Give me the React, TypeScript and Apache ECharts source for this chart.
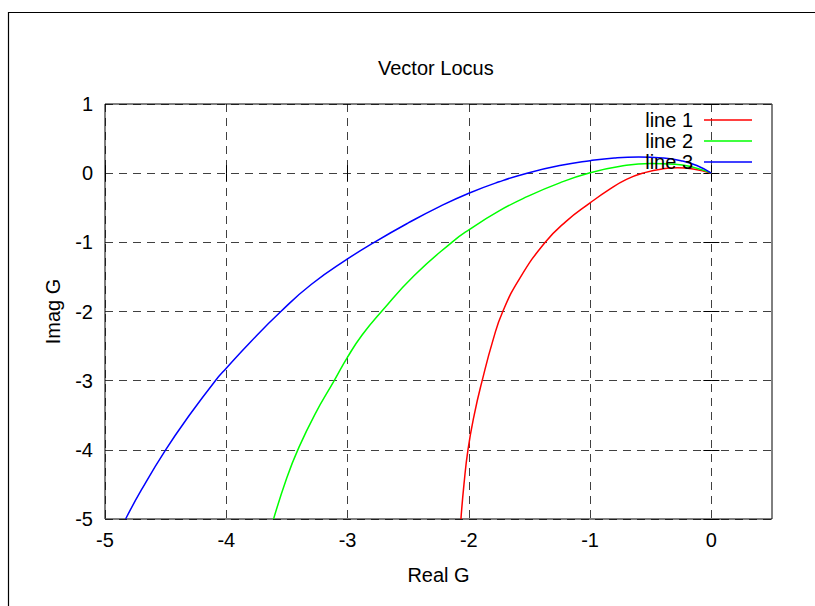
import React, { useEffect, useRef } from "react";
import * as echarts from "echarts";

const seriesNames = ["line 1", "line 2", "line 3"];
const seriesColors = ["#ff0000", "#00ff00", "#0000ff"];

const line1: [number, number][] = [
  [-2.065, -5], [-2.04, -4.5], [-2.007, -4], [-1.955, -3.49], [-1.89, -3], [-1.8, -2.41],
  [-1.72, -2], [-1.58, -1.52], [-1.37, -1], [-1.2, -0.7], [-1.0, -0.43], [-0.85, -0.245],
  [-0.7, -0.09], [-0.55, 0.008], [-0.4, 0.063], [-0.28, 0.077], [-0.15, 0.06], [0, 0],
];
const line2: [number, number][] = [
  [-3.61, -5], [-3.5, -4.4], [-3.41, -4], [-3.27, -3.49], [-3.11, -3], [-3.0, -2.66],
  [-2.88, -2.34], [-2.72, -2], [-2.45, -1.48], [-2.14, -1], [-2.0, -0.82], [-1.75, -0.545],
  [-1.52, -0.34], [-1.25, -0.14], [-1.0, 0.005], [-0.75, 0.1], [-0.5, 0.14], [-0.3, 0.13],
  [-0.15, 0.085], [0, 0],
];
const line3: [number, number][] = [
  [-4.83, -5], [-4.7, -4.58], [-4.5, -4], [-4.3, -3.49], [-4.09, -3], [-4.0, -2.82],
  [-3.8, -2.44], [-3.55, -2], [-3.3, -1.61], [-3.0, -1.24], [-2.78, -1], [-2.5, -0.72],
  [-2.25, -0.49], [-2.0, -0.29], [-1.75, -0.125], [-1.52, 0], [-1.25, 0.11], [-1.0, 0.18],
  [-0.8, 0.22], [-0.6, 0.235], [-0.4, 0.22], [-0.25, 0.18], [-0.12, 0.11], [0, 0],
];

const xTicks = [-5, -4, -3, -2, -1, 0];

const FONT = "'Liberation Sans', Arial, sans-serif";
const FS = 20;

export default function App() {
  const ref = useRef<HTMLDivElement>(null);
  useEffect(() => {
    if (!ref.current) return;
    const chart = echarts.init(ref.current, null, { renderer: "svg" });
    const dash = { type: [8, 6] as any, color: "#000", width: 1, opacity: 0.75 };
    const gridSplit = { show: true, lineStyle: dash };
    const data = [line1, line2, line3];
    chart.setOption({
      animation: false,
      backgroundColor: "#fff",
      textStyle: { fontFamily: FONT },
      title: {
        text: "Vector Locus",
        left: 378,
        top: 58,
        padding: 0,
        textStyle: { fontFamily: FONT, fontSize: FS, fontWeight: "normal", color: "#000" },
      },
      legend: {
        orient: "vertical",
        right: 63,
        top: 110,
        align: "right",
        icon: "rect",
        itemWidth: 48,
        itemHeight: 1.5,
        itemGap: 1,
        padding: 0,
        textStyle: { fontFamily: FONT, fontSize: FS, color: "#000", padding: [0, 6, 0, 0] },
        data: seriesNames,
      },
      grid: {
        left: 105,
        top: 104,
        right: 43,
        bottom: 87,
        show: true,
        borderColor: "#000",
        borderWidth: 1,
        backgroundColor: "transparent",
      },
      graphic: [
        {
          type: "rect",
          shape: { x: 8.5, y: 12.5, width: 2000, height: 2000 },
          style: { fill: "none", stroke: "#000", lineWidth: 1.2 },
          silent: true,
          z: -10,
        },
      ],
      xAxis: [
        {
          type: "value",
          min: -5,
          max: 0.5,
          interval: 1,
          name: "Real G",
          nameLocation: "middle",
          nameGap: 46,
          nameTextStyle: { fontFamily: FONT, fontSize: FS, color: "#000" },
          axisLine: { show: false },
          axisTick: { show: true, inside: true, length: 8, lineStyle: { color: "#000" }, customValues: xTicks },
          axisLabel: { margin: 11, fontFamily: FONT, fontSize: FS, color: "#000", customValues: xTicks },
          splitLine: gridSplit,
        },
        {
          type: "value",
          position: "top",
          min: -5,
          max: 0.5,
          interval: 1,
          axisLine: { show: false },
          axisTick: { show: true, inside: true, length: 8, lineStyle: { color: "#000" }, customValues: xTicks },
          axisLabel: { show: false },
          splitLine: { show: false },
        },
      ],
      yAxis: [
        {
          type: "value",
          min: -5,
          max: 1,
          interval: 1,
          name: "Imag G",
          nameLocation: "middle",
          nameGap: 42,
          nameTextStyle: { fontFamily: FONT, fontSize: FS, color: "#000" },
          axisLine: { show: false },
          axisTick: { show: true, inside: true, length: 8, lineStyle: { color: "#000" } },
          axisLabel: { margin: 12, fontFamily: FONT, fontSize: FS, color: "#000" },
          splitLine: gridSplit,
        },
        {
          type: "value",
          position: "right",
          min: -5,
          max: 1,
          interval: 1,
          axisLine: { show: false },
          axisTick: { show: true, inside: true, length: 8, lineStyle: { color: "#000" } },
          axisLabel: { show: false },
          splitLine: { show: false },
        },
      ],
      series: seriesNames.map((name, i) => ({
        name,
        type: "line",
        data: data[i],
        xAxisIndex: 0,
        yAxisIndex: 0,
        showSymbol: false,
        symbol: "none",
        smooth: 0.5,
        color: seriesColors[i],
        lineStyle: { color: seriesColors[i], width: 1.5 },
      })),
    });
    return () => chart.dispose();
  }, []);
  return (
    <div
      ref={ref}
      style={{ position: "fixed", left: 0, top: 0, width: 815, height: 606, background: "#fff" }}
    />
  );
}
